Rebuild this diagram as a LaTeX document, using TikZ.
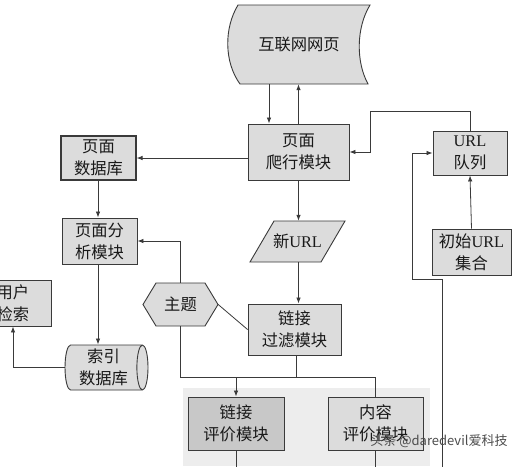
\documentclass[tikz,border=0pt]{standalone}
\usepackage{fontspec}
\setmainfont{Noto Sans CJK SC}
\newfontfamily\lat{Liberation Serif}
\usetikzlibrary{arrows.meta,shapes.geometric}
\definecolor{boxfill}{HTML}{DCDCDC}
\definecolor{darkfill}{HTML}{C8C8C8}
\definecolor{edge}{HTML}{3A3A3A}
\tikzset{
  base/.style={font=\fontsize{16.3}{22}\selectfont, align=center, text=black!90, inner sep=0pt},
  box/.style={base, draw=edge, fill=boxfill, line width=0.9pt},
  ghost/.style={base},
  arr/.style={draw=edge, line width=0.8pt, -{Latex[length=6pt,width=4.5pt]}},
  ln/.style={draw=edge, line width=0.8pt},
}
\begin{document}
\begin{tikzpicture}[x=1pt,y=-1pt]
\useasboundingbox (0,0) rectangle (522,466);
\clip (0,0) rectangle (522,466);
\fill[white] (0,0) rectangle (522,466);
% light background panel
\fill[black!7] (183,388) rectangle (430,466);
% internet pages
\fill[boxfill] (238,5) -- (370,5) .. controls (356,28) and (356,62) .. (368,84) -- (240,84) .. controls (224,62) and (224,28) .. (238,5) -- cycle;
\draw[ln, line width=0.9pt] (238,5) -- (370,5) .. controls (356,28) and (356,62) .. (368,84) -- (240,84) .. controls (224,62) and (224,28) .. (238,5) -- cycle;
\node[ghost, minimum width=142pt, minimum height=79pt] (net) at (299,44.5) {互联网网页};
% boxes
\node[box, minimum width=101pt, minimum height=56pt] (crawl) at (298.5,152) {页面\\爬行模块};
\node[box, minimum width=75pt, minimum height=44pt, line width=1.2pt] (pagedb) at (98.5,158) {页面\\数据库};
\node[box, minimum width=74pt, minimum height=44pt] (url) at (470,153) {{\lat URL}\\队列};
\node[box, minimum width=79pt, minimum height=46pt] (init) at (471.5,252) {初始{\lat URL}\\集合};
\node[box, minimum width=75pt, minimum height=46pt] (ana) at (99.5,241) {页面分\\析模块};
\node[box, minimum width=76pt, minimum height=46pt] (user) at (13,303) {用户\\检索};
% new URL parallelogram
\fill[boxfill] (274,221) -- (345,221) -- (321,262) -- (250,262) -- cycle;
\draw[ln, line width=0.9pt] (274,221) -- (345,221) -- (321,262) -- (250,262) -- cycle;
\node[ghost, minimum width=95pt, minimum height=41pt] (newurl) at (297.5,241.5) {新{\lat URL}};
\node[box, minimum width=93pt, minimum height=51pt] (filter) at (294.5,329.5) {链接\\过滤模块};
% theme hexagon
\fill[boxfill] (143,304.5) -- (156,283) -- (205,283) -- (218,304.5) -- (205,326) -- (156,326) -- cycle;
\draw[ln, line width=0.9pt] (143,304.5) -- (156,283) -- (205,283) -- (218,304.5) -- (205,326) -- (156,326) -- cycle;
\node[ghost, minimum width=75pt, minimum height=43pt] (theme) at (180.5,304.5) {主题};
% index database cylinder
\node[box, cylinder, aspect=0.3, minimum width=45pt, minimum height=83pt, shape border rotate=0, cylinder uses custom fill, cylinder body fill=boxfill, cylinder end fill=boxfill] (idx) at (103.5,367.5) {索引\\数据库};
% evaluation boxes
\node[box, fill=darkfill, minimum width=96pt, minimum height=53pt] (leval) at (236,423.5) {链接\\评价模块};
\node[box, minimum width=95pt, minimum height=53pt] (ceval) at (375.5,423.5) {内容\\评价模块};
% free ends
\coordinate (b1) at (442,470);
\coordinate (j) at (296,377);
% connectors
\draw[arr] ([xshift=-30pt]net.south) -- ([xshift=-29.5pt]crawl.north);
\draw[arr] (crawl.north) -- (crawl.north |- net.south);
\draw[arr] (crawl.west |- pagedb.east) -- (pagedb.east);
\draw[arr] (url.north) |- (370,111) |- (crawl.east);
\draw[arr] (b1) |- (412,279) |- (url.west);
\draw[arr] (init.north) -- (url.south);
\draw[arr] ([xshift=-0.5pt]pagedb.south) -- ([xshift=-1.5pt]ana.north);
\draw[arr] (theme.north) |- (ana.east);
\draw[ln] (theme.east) -- (filter.west);
\draw[arr] (crawl.south) -- (crawl.south |- newurl.north);
\draw[arr] ([xshift=1pt]newurl.south) -- ([xshift=4pt]filter.north);
\draw[ln] ([xshift=1.5pt]filter.south) -- (j);
\draw[ln] (theme.south) |- (ceval.north |- j) -- (ceval.north);
\draw[arr] (leval.north |- j) -- (leval.north);
\draw[arr] ([xshift=-1.5pt]ana.south) -- ([xshift=-1.5pt]ana.south |- idx.north);
\draw[arr] (idx.west) -| (user.south);
\draw[ln] (leval.south) -- (leval.south |- b1);
\draw[ln] (ceval.south) -- (ceval.south |- b1);
% watermark
\node[font=\fontsize{13}{13}\selectfont, text=black!70, inner sep=0pt] (wm) at (439,441) {头条 @daredevil爱科技};
\end{tikzpicture}
\end{document}
